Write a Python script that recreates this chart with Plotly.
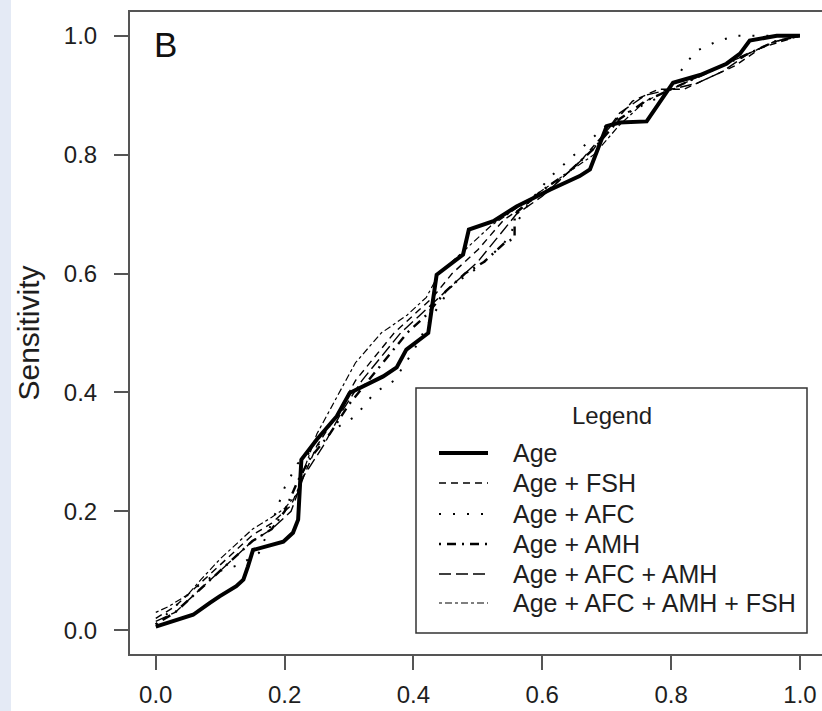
import plotly.graph_objects as go

# ROC curves: false positive rate (x) vs sensitivity (y) for each model
age_fpr = [0, 0.037, 0.058, 0.084, 0.099, 0.125, 0.136, 0.143, 0.151, 0.198, 0.213, 0.221, 0.226,
           0.250, 0.281, 0.301, 0.322, 0.353, 0.374, 0.389, 0.423, 0.431, 0.436, 0.477, 0.486,
           0.524, 0.560, 0.612, 0.658, 0.674, 0.700, 0.720, 0.762, 0.803, 0.845, 0.886, 0.907,
           0.922, 0.964, 1.0]
age_sens = [0.006, 0.018, 0.026, 0.046, 0.057, 0.074, 0.085, 0.107, 0.135, 0.149, 0.164, 0.186, 0.287,
            0.321, 0.360, 0.399, 0.410, 0.427, 0.442, 0.472, 0.500, 0.556, 0.598, 0.632, 0.674,
            0.688, 0.713, 0.741, 0.764, 0.775, 0.848, 0.854, 0.856, 0.921, 0.934, 0.953, 0.970,
            0.992, 1.0, 1.0]

fsh_fpr = [0, 0.03, 0.06, 0.09, 0.12, 0.15, 0.18, 0.21, 0.23, 0.25, 0.28, 0.31, 0.34, 0.37, 0.40,
           0.43, 0.46, 0.50, 0.54, 0.58, 0.62, 0.66, 0.70, 0.74, 0.78, 0.82, 0.86, 0.90, 0.94, 0.97, 1.0]
fsh_sens = [0.02, 0.04, 0.07, 0.10, 0.13, 0.16, 0.18, 0.21, 0.26, 0.31, 0.36, 0.42, 0.46, 0.50, 0.53,
            0.56, 0.60, 0.64, 0.69, 0.72, 0.75, 0.79, 0.84, 0.89, 0.91, 0.91, 0.93, 0.95, 0.98, 0.99, 1.0]

afc_fpr = [0, 0.03, 0.06, 0.10, 0.13, 0.16, 0.18, 0.20, 0.22, 0.25, 0.28, 0.31, 0.34, 0.37, 0.40,
           0.43, 0.46, 0.50, 0.54, 0.58, 0.61, 0.64, 0.67, 0.70, 0.73, 0.77, 0.80, 0.82, 0.84, 0.87,
           0.90, 0.93, 1.0]
afc_sens = [0.01, 0.04, 0.07, 0.10, 0.11, 0.13, 0.18, 0.24, 0.28, 0.31, 0.34, 0.36, 0.40, 0.42, 0.47,
            0.53, 0.58, 0.61, 0.65, 0.72, 0.76, 0.79, 0.82, 0.85, 0.87, 0.89, 0.91, 0.95, 0.975, 0.99,
            1.0, 1.0, 1.0]

amh_fpr = [0, 0.03, 0.06, 0.09, 0.12, 0.15, 0.18, 0.20, 0.22, 0.24, 0.27, 0.30, 0.33, 0.36, 0.39,
           0.42, 0.45, 0.48, 0.51, 0.54, 0.557, 0.557, 0.60, 0.64, 0.68, 0.72, 0.76, 0.80, 0.84, 0.88,
           0.92, 0.96, 1.0]
amh_sens = [0.01, 0.03, 0.06, 0.09, 0.12, 0.15, 0.17, 0.20, 0.25, 0.29, 0.33, 0.38, 0.42, 0.46, 0.50,
            0.53, 0.57, 0.60, 0.62, 0.65, 0.66, 0.70, 0.74, 0.77, 0.81, 0.86, 0.89, 0.91, 0.93, 0.95,
            0.97, 0.99, 1.0]

afc_amh_fpr = [0, 0.03, 0.06, 0.09, 0.12, 0.15, 0.18, 0.21, 0.23, 0.26, 0.29, 0.32, 0.35, 0.38, 0.41,
               0.44, 0.47, 0.50, 0.53, 0.56, 0.60, 0.64, 0.68, 0.72, 0.76, 0.80, 0.84, 0.88, 0.92,
               0.96, 1.0]
afc_amh_sens = [0.015, 0.03, 0.06, 0.09, 0.12, 0.15, 0.17, 0.20, 0.26, 0.31, 0.37, 0.42, 0.46, 0.50,
                0.53, 0.56, 0.59, 0.62, 0.66, 0.70, 0.73, 0.77, 0.81, 0.87, 0.90, 0.91, 0.92, 0.94,
                0.97, 0.99, 1.0]

all_fpr = [0, 0.02, 0.05, 0.07, 0.10, 0.13, 0.15, 0.18, 0.20, 0.22, 0.23, 0.25, 0.28, 0.31, 0.35,
           0.39, 0.42, 0.44, 0.48, 0.52, 0.56, 0.60, 0.64, 0.68, 0.72, 0.76, 0.80, 0.84, 0.88, 0.92,
           0.96, 1.0]
all_sens = [0.03, 0.04, 0.06, 0.085, 0.12, 0.15, 0.17, 0.19, 0.205, 0.23, 0.27, 0.33, 0.39, 0.45,
            0.50, 0.53, 0.56, 0.60, 0.64, 0.68, 0.71, 0.74, 0.77, 0.80, 0.85, 0.89, 0.91, 0.93, 0.95,
            0.97, 0.99, 1.0]

series_names = ["Age", "Age + FSH", "Age + AFC", "Age + AMH", "Age + AFC + AMH",
                "Age + AFC + AMH + FSH"]
tick_vals = [0.0, 0.2, 0.4, 0.6, 0.8, 1.0]
tick_text = ["0.0", "0.2", "0.4", "0.6", "0.8", "1.0"]

styles = [
    dict(width=4, dash="solid"),
    dict(width=1.4, dash="7px,5px"),
    dict(width=2, dash="2px,12px"),
    dict(width=2.4, dash="2px,6px,9px,6px"),
    dict(width=1.4, dash="12px,5px"),
    dict(width=1.2, dash="3px,3px,7px,3px"),
]
curves = [(age_fpr, age_sens), (fsh_fpr, fsh_sens), (afc_fpr, afc_sens),
          (amh_fpr, amh_sens), (afc_amh_fpr, afc_amh_sens), (all_fpr, all_sens)]

FONT = "Liberation Sans, Arial, sans-serif"
AX = "#555555"
TXT = "#1e1e1e"

# plot area in pixels: left 130, top 12, width 692, height 642
PL, PT, PW, PH = 130, 12, 692, 642


def px_x(px):
    return (px - PL) / PW


def px_y(py):
    return 1 - (py - PT) / PH


fig = go.Figure()
for name, (xs, ys), st in zip(series_names, curves, styles):
    fig.add_trace(go.Scatter(x=xs, y=ys, mode="lines", name=name, showlegend=False,
                             line=dict(color="black", width=st["width"], dash=st["dash"])))

# boxed key in the lower right of the plot
shapes = [
    dict(type="rect", xref="paper", yref="paper",
         x0=-130 / PW, x1=-119 / PW, y0=-0.2, y1=1.1,
         fillcolor="#e4eaf5", line=dict(width=0), layer="below"),
    dict(type="rect", xref="paper", yref="paper",
         x0=px_x(416), x1=px_x(807), y0=px_y(633), y1=px_y(388),
         fillcolor="white", line=dict(color="#333333", width=1.5), layer="above"),
]
annotations = [
    dict(text="B", x=0.0155, y=0.985, xref="x", yref="y",
         showarrow=False, xanchor="center", yanchor="middle",
         font=dict(size=35, family=FONT, color="#111111")),
    dict(text="Legend", x=px_x(612), y=px_y(415), xref="paper", yref="paper",
         showarrow=False, xanchor="center", yanchor="middle",
         font=dict(size=24, family=FONT, color=TXT)),
]
row_y = [453, 483, 514, 544, 574, 603]
for name, st, ry in zip(series_names, styles, row_y):
    shapes.append(dict(type="line", xref="paper", yref="paper",
                       x0=px_x(439), x1=px_x(488), y0=px_y(ry), y1=px_y(ry),
                       line=dict(color="black", width=st["width"], dash=st["dash"]),
                       layer="above"))
    annotations.append(dict(text=name, x=px_x(511), y=px_y(ry), xref="paper", yref="paper",
                            showarrow=False, xanchor="left", yanchor="middle",
                            font=dict(size=25, family=FONT, color=TXT)))

fig.update_layout(
    width=822, height=711,
    margin=dict(l=PL, r=0, t=PT, b=711 - PT - PH),
    paper_bgcolor="white", plot_bgcolor="white",
    font=dict(family=FONT, color=TXT),
    showlegend=False,
    xaxis=dict(
        range=[-0.04, 1.0342], tickvals=tick_vals, ticktext=tick_text,
        showgrid=False, zeroline=False, showline=True, mirror=True,
        linecolor=AX, linewidth=2, ticks="outside", ticklen=14, tickwidth=2, tickcolor=AX,
        tickfont=dict(size=24, family=FONT, color=TXT), ticklabelstandoff=4,
    ),
    yaxis=dict(
        range=[-0.04, 1.04], tickvals=tick_vals, ticktext=tick_text,
        showgrid=False, zeroline=False, showline=True, mirror=False,
        linecolor=AX, linewidth=2, ticks="outside", ticklen=14, tickwidth=2, tickcolor=AX,
        tickfont=dict(size=24, family=FONT, color=TXT), ticklabelstandoff=12,
        title=dict(text="Sensitivity", font=dict(size=30, family=FONT, color=TXT),
                   standoff=15),
    ),
    shapes=shapes,
    annotations=annotations,
)

fig.write_html("out.html")
